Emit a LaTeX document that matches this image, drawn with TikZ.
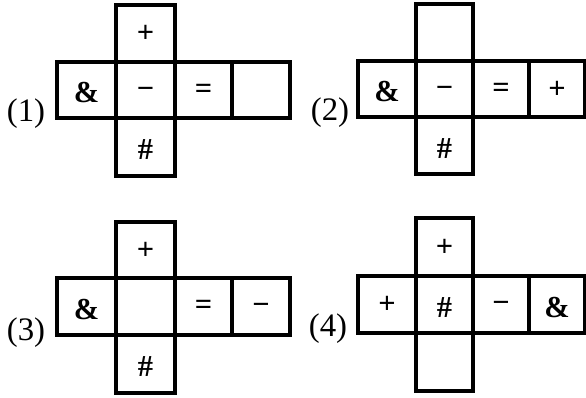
\documentclass[tikz,border=0pt]{standalone}
\usepackage{fontspec}
\setmainfont{Liberation Serif}
\usepackage{tikz}

\tikzset{
    face/.style={line width=2.6pt,black},
    sym/.style={font=\fontsize{26}{30}\selectfont\bfseries,inner sep=0pt,
        text height=18pt,text depth=0pt},
    tag/.style={font=\fontsize{28}{32}\selectfont,inner sep=0pt}
}

\begin{document}
\begin{tikzpicture}[x=0.03cm,y=-0.03cm]
    \useasboundingbox (0,0) rectangle (586,398);
    % first
        \draw[face](116,5) rectangle (175,176);
        \draw[face](57,62) rectangle (290,118);
        \draw[face](232,62)--(232,118);

        \node[sym] (p1) at (145.5,32){+};
        \node[sym] (a1) at (86.5,92){\&};
        \node[sym] (m1) at (145.5,87.5){−};
        \node[sym] (e1) at (203.5,87.5){=};
        \node[sym] (h1) at (145.5,149){\#};
        \node[tag] (t1) at (26,113.5){(1)};
    % second
        \draw[face](416,4) rectangle (473,174);
        \draw[face](358,61) rectangle (585,117);
        \draw[face](529,61)--(529,117);

        \node[sym] (a2) at (387,91){\&};
        \node[sym] (m2) at (444.5,86.5){−};
        \node[sym] (e2) at (501,86.5){=};
        \node[sym] (p2) at (557,87.5){+};
        \node[sym] (h2) at (444.5,147.5){\#};
        \node[tag] (t2) at (330,112.5){(2)};
    % third
        \draw[face](116,222) rectangle (175,393);
        \draw[face](57,278) rectangle (290,335);
        \draw[face](232,278)--(232,335);

        \node[sym] (p3) at (145.5,248.5){+};
        \node[sym] (a3) at (86.5,308.5){\&};
        \node[sym] (e3) at (203.5,304){=};
        \node[sym] (m3) at (261,304){−};
        \node[sym] (h3) at (145.5,366){\#};
        \node[tag] (t3) at (26,333){(3)};
    % fourth
        \draw[face](416,218) rectangle (473,391);
        \draw[face](358,276) rectangle (585,333);
        \draw[face](529,276)--(529,333);

        \node[sym] (p4) at (444.5,245.5){+};
        \node[sym] (q4) at (387,303){+};
        \node[sym] (h4) at (444.5,306.5){\#};
        \node[sym] (m4) at (501,301.5){−};
        \node[sym] (a4) at (557,306.5){\&};
        \node[tag] (t4) at (328,329){(4)};
\end{tikzpicture}
\end{document}
